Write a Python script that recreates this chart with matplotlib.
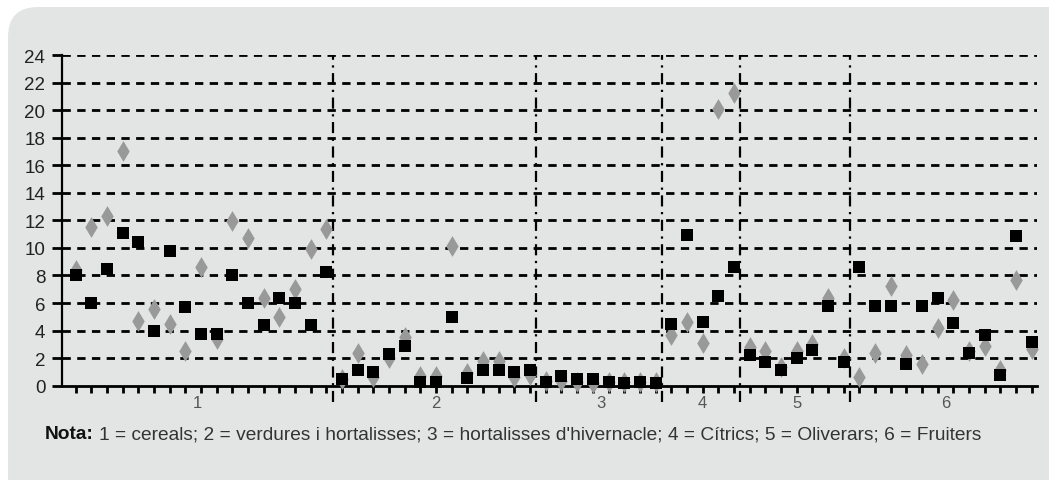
import numpy as np
import matplotlib.pyplot as plt
from matplotlib.patches import FancyBboxPatch

# groups (categories on the x axis) and how many points each holds
groups = ["1", "2", "3", "4", "5", "6"]
group_sizes = [17, 13, 8, 5, 7, 12]

# black squares
squares = [8.0, 6.0, 8.5, 11.1, 10.4, 4.0, 9.8, 5.7, 3.75, 3.75, 8.0, 6.0, 4.4, 6.35, 6.0, 4.4, 8.25,
           0.45, 1.15, 1.0, 2.3, 2.9, 0.3, 0.3, 5.0, 0.55, 1.15, 1.15, 1.0, 1.15,
           0.3, 0.7, 0.45, 0.45, 0.3, 0.2, 0.3, 0.2,
           4.45, 10.95, 4.6, 6.5, 8.65,
           2.2, 1.75, 1.15, 2.0, 2.6, 5.75, 1.75,
           8.65, 5.75, 5.8, 1.55, 5.75, 6.35, 4.55, 2.35, 3.65, 0.75, 10.9, 3.2]

# grey diamonds
diamonds = [8.4, 11.5, 12.3, 17.05, 4.7, 5.55, 4.5, 2.55, 8.65, 3.4, 11.95, 10.75, 6.4, 5.0, 7.0, 9.95, 11.4,
            0.45, 2.35, 0.6, 2.0, 3.5, 0.7, 0.7, 10.15, 0.9, 1.8, 1.8, 0.6, 0.75,
            0.35, 0.35, 0.3, 0.2, 0.3, 0.3, 0.3, 0.3,
            3.65, 4.6, 3.1, 20.1, 21.25,
            2.8, 2.55, 1.35, 2.5, 3.05, 6.4, 2.0,
            0.6, 2.35, 7.25, 2.2, 1.6, 4.2, 6.2, 2.55, 2.85, 1.15, 7.7, 2.65]

note_bold = "Nota:"
note_text = "1 = cereals; 2 = verdures i hortalisses; 3 = hortalisses d'hivernacle; 4 = Cítrics; 5 = Oliverars; 6 = Fruiters"

plt.rcParams['font.family'] = ['Liberation Sans', 'DejaVu Sans']

fig = plt.figure(figsize=(10.49, 4.81), dpi=100)

# grey rounded panel behind everything (pixel coords)
panel = FancyBboxPatch((8, -60), 1120, 533, boxstyle="round,pad=0,rounding_size=30",
                       transform=None, facecolor="#e3e4e4", edgecolor="none", zorder=-10)
fig.patches.append(panel)

ax = fig.add_axes([62 / 1049, 94.3 / 481, 975 / 1049, 330.7 / 481])
ax.set_facecolor("none")

x = np.arange(1, len(squares) + 1)

ax.set_xlim(0.13, 62.34)
ax.set_ylim(0, 24)

# horizontal dashed grid
for yv in range(2, 25, 2):
    ax.axhline(yv, color="black", lw=2.0, linestyle=(0, (3, 2.3)), zorder=1)

# group separators and labels
edges = np.cumsum(group_sizes)
bounds = [0.13] + list(edges[:-1] + 0.4) + [62.34]
for b in bounds[1:-1]:
    ax.plot([b, b], [-1.2, 24], color="black", lw=1.6, linestyle=(0, (5, 2.5, 1, 2.5)),
            clip_on=False, zorder=1)
for i, g in enumerate(groups):
    start = edges[i] - group_sizes[i] + 1
    cx = (start + edges[i]) / 2
    if i == 0:
        cx = (bounds[0] + bounds[1]) / 2
    ax.text(cx, -1.2, g, ha="center", va="center", fontsize=12, color="#555555", clip_on=False)

ax.scatter(x, diamonds, marker="d", s=112, color="#999999", linewidths=0, zorder=3, clip_on=False)
ax.scatter(x, squares, marker="s", s=82, color="black", linewidths=0, zorder=4, clip_on=False)

for s in ["top", "right"]:
    ax.spines[s].set_visible(False)
ax.spines["left"].set_linewidth(1.6)
ax.spines["bottom"].set_linewidth(2)

ax.set_yticks(range(0, 25, 2))
ax.tick_params(axis="y", length=7, width=2, pad=5, labelsize=13.5, labelcolor="#222222")
ax.set_xticks(x)
ax.set_xticklabels([])
ax.tick_params(axis="x", length=5, width=2, direction="out")

# note under the chart, shrunk to the width it has in the reference
fs = 13
t1 = fig.text(45 / 1049, 46 / 481, note_bold, fontsize=fs, fontweight="bold", color="#111111", va="center")
t2 = fig.text(0, 46 / 481, note_text, fontsize=fs, color="#333333", va="center")
r = fig.canvas.get_renderer()
total = t1.get_window_extent(r).width + 6 + t2.get_window_extent(r).width
fs = fs * 938 / total
t1.set_fontsize(fs)
t2.set_fontsize(fs)
bb = t1.get_window_extent(r)
t2.set_x((bb.x1 + 5) / 1049)

fig.savefig("out.png", dpi=100)
